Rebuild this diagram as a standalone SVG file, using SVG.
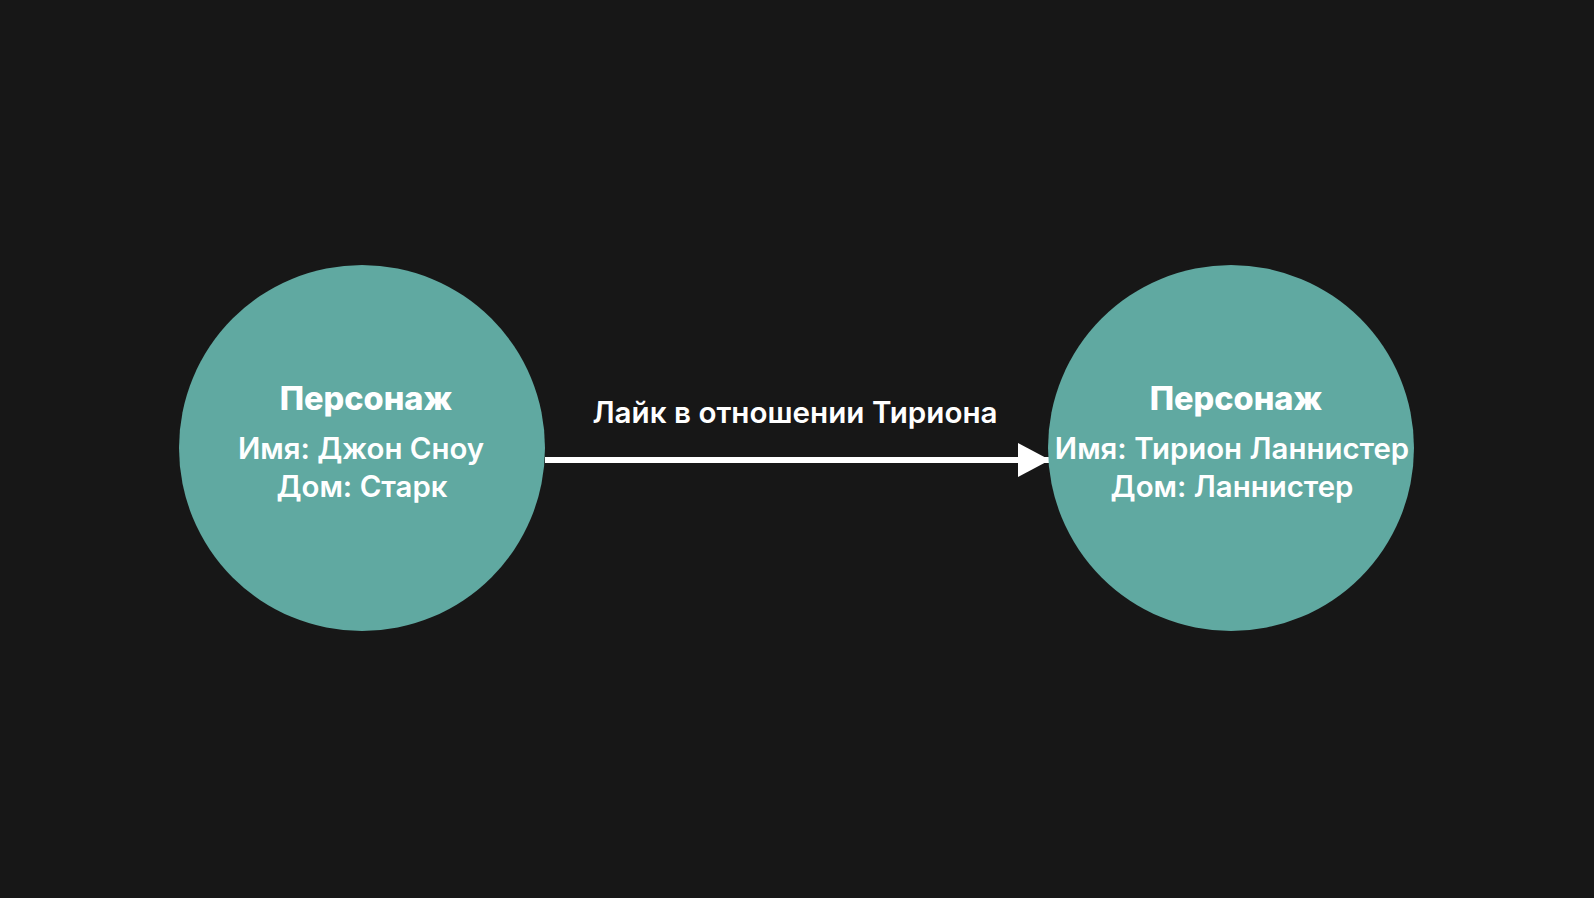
<svg xmlns="http://www.w3.org/2000/svg" width="1594" height="898" viewBox="0 0 1594 898">
<style>
.node{fill:#60a9a1}
.t{font-family:Inter,"Noto Sans","Liberation Sans",sans-serif;fill:#ffffff;text-anchor:middle}
.h{font-size:32.5px;font-weight:800}
.b{font-size:29.4px;font-weight:600}
.lbl{font-size:29.6px;font-weight:600}
</style>
<defs>
<marker id="ah" markerWidth="32" markerHeight="34" refX="32" refY="17" markerUnits="userSpaceOnUse" orient="auto">
<path d="M0,0 L32,17 L0,34 Z" fill="#ffffff"/>
</marker>
</defs>
<rect width="1594" height="898" fill="#171717"/>
<g id="connectors">
<line x1="545" y1="460" x2="1050" y2="460" stroke="#ffffff" stroke-width="6" marker-end="url(#ah)"/>
<text class="t lbl" x="795" y="423">Лайк в отношении Тириона</text>
</g>
<g id="node-jon">
<circle class="node" cx="362" cy="448" r="183"/>
<text class="t h" x="366" y="410">Персонаж</text>
<text class="t b" x="361" y="459">Имя: Джон Сноу</text>
<text class="t b" x="362" y="497">Дом: Старк</text>
</g>
<g id="node-tyrion">
<circle class="node" cx="1231" cy="448" r="183"/>
<text class="t h" x="1236" y="410">Персонаж</text>
<text class="t b" x="1232" y="459">Имя: Тирион Ланнистер</text>
<text class="t b" x="1232" y="497">Дом: Ланнистер</text>
</g>
</svg>
